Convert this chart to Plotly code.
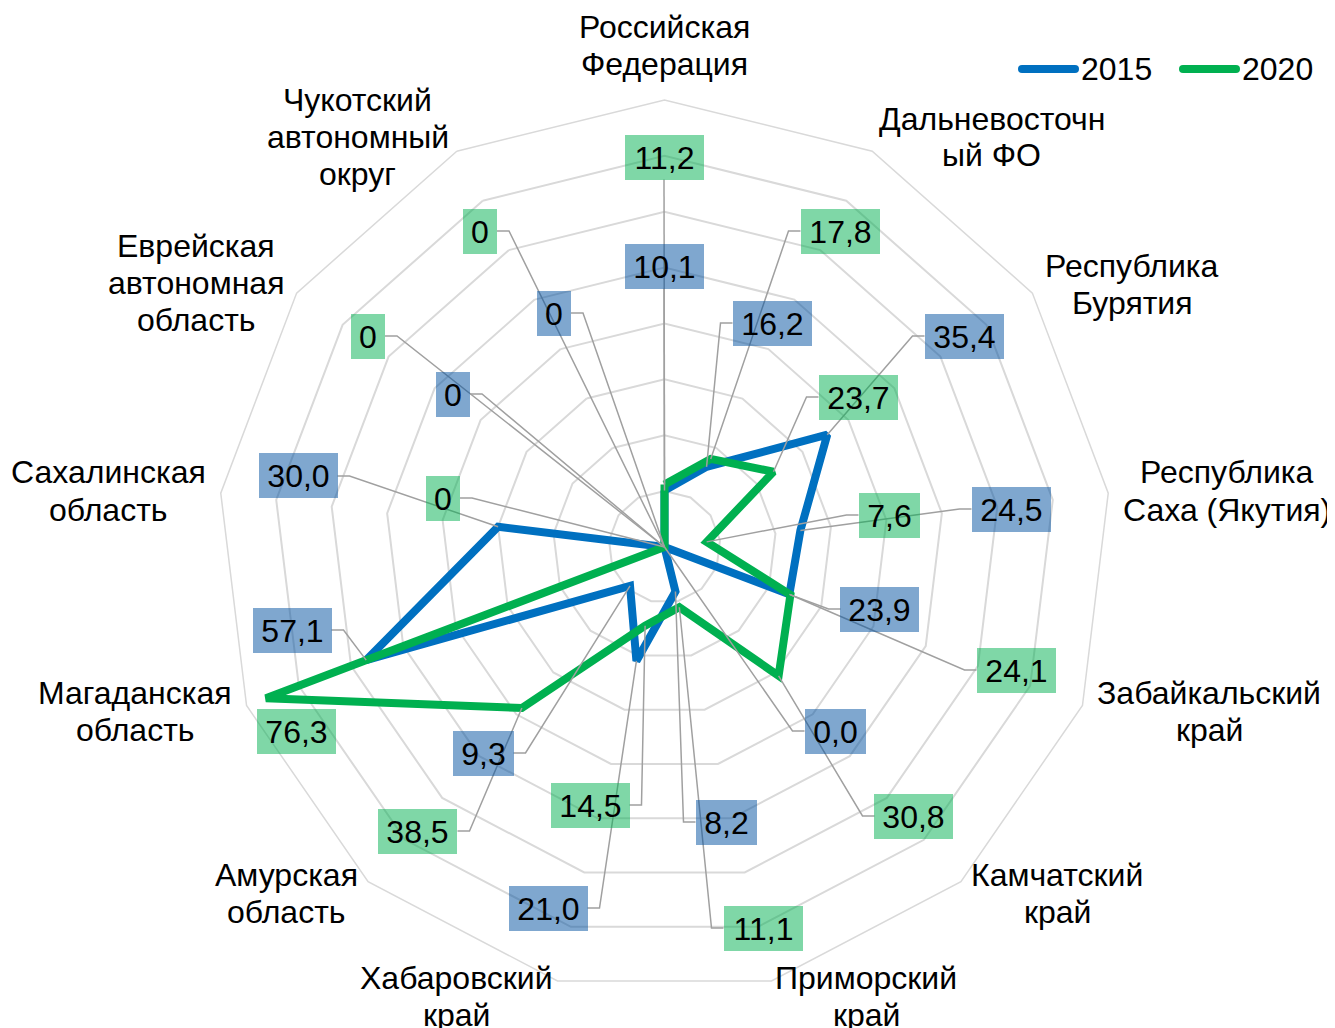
import math
import plotly.graph_objects as go

# ---------------- data ----------------
CATEGORIES = [
    "Российская Федерация", "Дальневосточный ФО", "Республика Бурятия",
    "Республика Саха (Якутия)", "Забайкальский край", "Камчатский край",
    "Приморский край", "Хабаровский край", "Амурская область",
    "Магаданская область", "Сахалинская область",
    "Еврейская автономная область", "Чукотский автономный округ",
]
CATEGORY_TICKS = [
    ["Российская", "Федерация"], ["Дальневосточн", "ый ФО"], ["Республика", "Бурятия"],
    ["Республика", "Саха (Якутия)"], ["Забайкальский", "край"], ["Камчатский", "край"],
    ["Приморский", "край"], ["Хабаровский", "край"], ["Амурская", "область"],
    ["Магаданская", "область"], ["Сахалинская", "область"],
    ["Еврейская", "автономная", "область"], ["Чукотский", "автономный", "округ"],
]
SERIES_NAMES = ["2015", "2020"]
VALUES_2015 = [10.1, 16.2, 35.4, 24.5, 23.9, 0.0, 8.2, 21.0, 9.3, 57.1, 30.0, 0, 0]
VALUES_2020 = [11.2, 17.8, 23.7, 7.6, 24.1, 30.8, 11.1, 14.5, 38.5, 76.3, 0, 0, 0]
RADIAL_MAX = 80
RADIAL_STEP = 10

# ---------------- layout / style ----------------
W, H = 1335, 1028
OFF = 8  # page body margin of the browser
CX, CY, R = 664.5, 547.0, 447.0
COLORS = ["#0070C0", "#00B050"]
BOX_COLORS = ["rgba(0,80,160,0.5)", "rgba(0,176,80,0.5)"]
FONT = "Liberation Sans, Arial, sans-serif"
FS = 32
GRID = "#D9D9D9"
LEADER = "#A0A0A0"
LINE_SPACING = 37

# label box centres (screen pixels) placed like the original data labels
LABEL_POS_2015 = [(664, 266), (772, 323), (964, 336), (1011, 509), (880, 609),
                  (835, 731), (726, 822), (548, 908), (483, 753), (292, 630),
                  (298, 476), (453, 394), (554, 313)]
LABEL_POS_2020 = [(664, 157), (840, 231), (858, 397), (889, 515), (1016, 670),
                  (914, 816), (763, 928), (590, 805), (418, 831), (296, 731),
                  (443, 498), (368, 336), (480, 231)]
CAT_LABEL_POS = [(664, 45), (992, 137), (1132, 284), (1227, 491), (1209, 711),
                 (1057, 893), (866, 996), (457, 996), (286, 893), (135, 711),
                 (108, 491), (196, 283), (358, 137)]

N = len(CATEGORIES)


def to_paper(px, py):
    return (px - OFF) / W, 1 - (py - OFF) / H


def point_px(v, i):
    th = math.radians(i * 360.0 / N)
    r = v / RADIAL_MAX * R
    return CX + r * math.sin(th), CY - r * math.cos(th)


def fmt(v):
    if isinstance(v, int):
        return str(v)
    return f"{v:.1f}".replace(".", ",")


BOX_W = {1: 34, 3: 61, 4: 79}
BOX_H = 45

fig = go.Figure()
for name, vals, col in zip(SERIES_NAMES, [VALUES_2015, VALUES_2020], COLORS):
    fig.add_trace(go.Scatterpolar(
        r=list(vals) + [vals[0]],
        theta=CATEGORIES + [CATEGORIES[0]],
        mode="lines",
        line=dict(color=col, width=8),
        name=name,
        showlegend=False,
        hoverinfo="skip",
    ))

shapes = []
annotations = []

# value labels + leader lines
for vals, positions, bcol in [(VALUES_2015, LABEL_POS_2015, BOX_COLORS[0]),
                              (VALUES_2020, LABEL_POS_2020, BOX_COLORS[1])]:
    for i, (v, (bx, by)) in enumerate(zip(vals, positions)):
        txt = fmt(v)
        bw = BOX_W.get(len(txt), 79)
        px, py = point_px(v, i)
        dxo = max(abs(px - bx) - bw / 2, 0)
        dyo = max(abs(py - by) - BOX_H / 2, 0)
        if math.hypot(dxo, dyo) > 20:
            if abs(px - bx) < bw / 2:
                ey = by + BOX_H / 2 if py > by else by - BOX_H / 2
                pts = [(px, py), (bx, ey)]
            else:
                if bx > px:
                    ex = bx - bw / 2
                    kx = ex - 12
                else:
                    ex = bx + bw / 2
                    kx = ex + 12
                pts = [(px, py), (kx, by), (ex, by)]
            path = ""
            for j, (x, y) in enumerate(pts):
                xp, yp = to_paper(x, y)
                path += ("M" if j == 0 else " L") + f" {xp:.5f},{yp:.5f}"
            shapes.append(dict(type="path", xref="paper", yref="paper", path=path,
                               line=dict(color=LEADER, width=1.5), layer="above"))
        xp, yp = to_paper(bx, by)
        annotations.append(dict(
            x=xp, y=yp, xref="paper", yref="paper", text=txt, showarrow=False,
            xanchor="center", yanchor="middle", width=bw, height=BOX_H,
            bgcolor=bcol, borderpad=0, borderwidth=0,
            font=dict(family=FONT, size=FS, color="black"),
        ))

# category labels (one annotation per line for Excel-like line spacing)
for lines, (lx, ly) in zip(CATEGORY_TICKS, CAT_LABEL_POS):
    n = len(lines)
    for k, line in enumerate(lines):
        yy = ly + (k - (n - 1) / 2) * LINE_SPACING
        xp, yp = to_paper(lx, yy)
        annotations.append(dict(
            x=xp, y=yp, xref="paper", yref="paper", text=line, showarrow=False,
            xanchor="center", yanchor="middle", align="center",
            font=dict(family=FONT, size=FS, color="black"),
        ))

# legend (drawn manually to match the long line samples)
LEGEND_ITEMS = [(1022, 1075, 1079), (1183, 1236, 1240)]
for (x0, x1, tx), name, col in zip(LEGEND_ITEMS, SERIES_NAMES, COLORS):
    ly = 69
    a = to_paper(x0, ly)
    b = to_paper(x1, ly)
    shapes.append(dict(type="line", xref="paper", yref="paper", x0=a[0], y0=a[1],
                       x1=b[0], y1=b[1], line=dict(color=col, width=8)))
    for ex in (x0, x1):
        c = to_paper(ex, ly)
        shapes.append(dict(type="circle", xref="paper", yref="paper",
                           xsizemode="pixel", ysizemode="pixel",
                           xanchor=c[0], yanchor=c[1], x0=-4, x1=4, y0=-4, y1=4,
                           fillcolor=col, line=dict(width=0)))
    t = to_paper(tx, ly)
    annotations.append(dict(
        x=t[0], y=t[1], xref="paper", yref="paper", text=name, showarrow=False,
        xanchor="left", yanchor="middle",
        font=dict(family=FONT, size=FS, color="black"),
    ))

dx0, _ = to_paper(CX - R, 0)
dx1, _ = to_paper(CX + R, 0)
_, dy1 = to_paper(0, CY - R)
_, dy0 = to_paper(0, CY + R)

fig.update_layout(
    width=W, height=H,
    margin=dict(l=0, r=0, t=0, b=0),
    paper_bgcolor="white",
    plot_bgcolor="white",
    showlegend=False,
    polar=dict(
        domain=dict(x=[dx0, dx1], y=[dy0, dy1]),
        bgcolor="white",
        gridshape="linear",
        angularaxis=dict(
            rotation=90, direction="clockwise", showticklabels=False, ticks="",
            showgrid=False, showline=True, linecolor=GRID, linewidth=1.5,
        ),
        radialaxis=dict(
            range=[0, RADIAL_MAX], dtick=RADIAL_STEP, showticklabels=False,
            ticks="", showline=False, gridcolor=GRID, gridwidth=1.5,
        ),
    ),
    shapes=shapes,
    annotations=annotations,
)

fig.write_html("out.html")
